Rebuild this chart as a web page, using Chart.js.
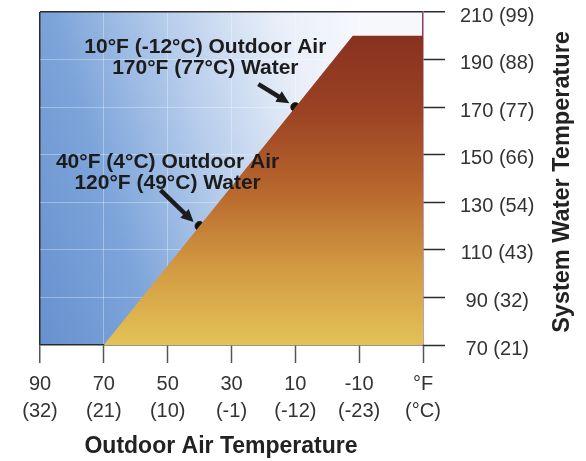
<!DOCTYPE html>
<html>
<head>
<meta charset="utf-8">
<script src="https://cdn.jsdelivr.net/npm/chart.js@4.4.1/dist/chart.umd.min.js"></script>
<style>
  html, body { margin: 0; padding: 0; background: #fff; }
  #wrap { width: 586px; height: 461px; }
</style>
</head>
<body>
<div id="wrap"><canvas id="chart" width="586" height="461"></canvas></div>
<script>
// reset curve: outdoor air (F) -> system water (F)
const curveAir = [70, 40, 10, -8, -30];
const curveWater = [70, 120, 170, 200, 200];

// the two marked design points
const markAir = [40, 10];
const markWater = [120, 170];
const markText = [
   ["40\u00B0F (4\u00B0C) Outdoor Air", "120\u00B0F (49\u00B0C) Water"],
   ["10\u00B0F (-12\u00B0C) Outdoor Air", "170\u00B0F (77\u00B0C) Water"],
];

// tick labels
const xTickF = [90, 70, 50, 30, 10, -10, -30];
const xTickC = ["(32)", "(21)", "(10)", "(-1)", "(-12)", "(-23)", "(\u00B0C)"];
const yTickF = [70, 90, 110, 130, 150, 170, 190, 210];
const yTickC = ["(21)", "(32)", "(43)", "(54)", "(66)", "(77)", "(88)", "(99)"];

const xTitle = "Outdoor Air Temperature";
const yTitle = "System Water Temperature";

const FONT = "'Liberation Sans', Arial, Helvetica, sans-serif";
const DARK = "#2b2b2b";

function blueBackground(ctx, area) {
   // mostly left-to-right, tilted a little toward the top
   const g = ctx.createLinearGradient(area.left, area.bottom, area.right, area.bottom - 120);
   g.addColorStop(0, "#6791cf");
   g.addColorStop(0.28, "#7ea5da");
   g.addColorStop(0.55, "#b8ceec");
   g.addColorStop(0.8, "#e8eef8");
   g.addColorStop(1, "#f6f8fc");
   return g;
}

function brownFill(context) {
   const chart = context.chart;
   const area = chart.chartArea;
   if (!area) return "#b5692e";
   const y = chart.scales.y;
   const g = chart.ctx.createLinearGradient(0, y.getPixelForValue(200), 0, area.bottom);
   g.addColorStop(0, "#88311f");
   g.addColorStop(0.25, "#9c4324");
   g.addColorStop(0.5, "#b8672d");
   g.addColorStop(0.75, "#d29a42");
   g.addColorStop(1, "#e3c257");
   return g;
}

const plotBg = {
   id: "plotBg",
   beforeDraw(chart) {
      const { ctx, chartArea } = chart;
      ctx.save();
      ctx.fillStyle = blueBackground(ctx, chartArea);
      ctx.fillRect(chartArea.left, chartArea.top, chartArea.right - chartArea.left, chartArea.bottom - chartArea.top);
      ctx.restore();
   },
};

function arrow(ctx, x1, y1, x2, y2) {
   const ang = Math.atan2(y2 - y1, x2 - x1);
   const head = 14;
   ctx.beginPath();
   ctx.moveTo(x1, y1);
   ctx.lineTo(x2 - Math.cos(ang) * head * 0.7, y2 - Math.sin(ang) * head * 0.7);
   ctx.stroke();
   ctx.beginPath();
   ctx.moveTo(x2, y2);
   ctx.lineTo(x2 - head * Math.cos(ang - 0.45), y2 - head * Math.sin(ang - 0.45));
   ctx.lineTo(x2 - head * Math.cos(ang + 0.45), y2 - head * Math.sin(ang + 0.45));
   ctx.closePath();
   ctx.fill();
}

const notes = {
   id: "notes",
   afterDraw(chart) {
      const { ctx } = chart;
      const xs = chart.scales.x;
      const ys = chart.scales.y;
      ctx.save();
      ctx.fillStyle = "#1c1c1c";
      ctx.strokeStyle = "#1c1c1c";
      ctx.lineWidth = 4.5;
      ctx.font = "bold 21px " + FONT;
      ctx.textAlign = "center";
      ctx.textBaseline = "middle";
      // label offsets from the point they describe
      const off = [
         { tx: -32, ty: -64, ax: -39, ay: -36 },
         { tx: -90, ty: -60, ax: -37, ay: -23 },
      ];
      markAir.forEach((a, i) => {
         const px = xs.getPixelForValue(a);
         const py = ys.getPixelForValue(markWater[i]);
         const o = off[i];
         ctx.fillText(markText[i][0], px + o.tx, py + o.ty);
         ctx.fillText(markText[i][1], px + o.tx, py + o.ty + 21);
         arrow(ctx, px + o.ax, py + o.ay, px - 6, py - 4);
      });

      // axis titles
      ctx.fillStyle = "#222";
      ctx.font = "bold 23px " + FONT;
      ctx.fillText(xTitle, 221, 447);
      ctx.font = "bold 23.5px " + FONT;
      ctx.translate(563, 182);
      ctx.rotate(-Math.PI / 2);
      ctx.fillText(yTitle, 0, 0);
      ctx.restore();
   },
};

new Chart(document.getElementById("chart"), {
   type: "line",
   data: {
      datasets: [
         {
            data: curveAir.map((a, i) => ({ x: a, y: curveWater[i] })),
            fill: "start",
            backgroundColor: brownFill,
            borderWidth: 0,
            pointRadius: 0,
            tension: 0,
         },
         {
            data: markAir.map((a, i) => ({ x: a, y: markWater[i] })),
            showLine: false,
            pointRadius: 4.5,
            pointBackgroundColor: "#111",
            pointBorderColor: "#111",
         },
      ],
   },
   options: {
      responsive: false,
      animation: false,
      layout: { padding: { left: 40, top: 12, right: 0, bottom: 0 } },
      plugins: { legend: { display: false }, tooltip: { enabled: false } },
      scales: {
         x: {
            type: "linear",
            reverse: true,
            min: -30,
            max: 90,
            afterBuildTicks: (s) => { s.ticks = xTickF.map((v) => ({ value: v })); },
            afterFit: (s) => { s.height = 116; },
            grid: {
               color: (c) => (c.tick && c.tick.value === 90 ? DARK : "rgba(255,255,255,0.32)"),
               lineWidth: (c) => (c.tick && c.tick.value === 90 ? 1.5 : 1),
               tickColor: "#555",
               tickLength: 18,
               tickWidth: 1.5,
            },
            border: { color: DARK, width: 1.5 },
            ticks: {
               padding: 8,
               maxRotation: 0,
               autoSkip: false,
               color: "#333",
               font: { family: FONT, size: 20, lineHeight: 1.35 },
               callback: (v) => {
                  const i = xTickF.indexOf(v);
                  return [v === -30 ? "\u00B0F" : String(v), xTickC[i]];
               },
            },
         },
         y: {
            position: "right",
            min: 70,
            max: 210,
            afterBuildTicks: (s) => { s.ticks = yTickF.map((v) => ({ value: v })); },
            afterFit: (s) => {
               s.width = 163;
               s.paddingTop = 0;
               s.paddingBottom = 0;
            },
            grid: {
               color: (c) => (c.tick && c.tick.value === 210 ? DARK : "rgba(255,255,255,0.32)"),
               lineWidth: (c) => (c.tick && c.tick.value === 210 ? 1.5 : 1),
               tickColor: DARK,
               tickLength: 22,
               tickWidth: 1.5,
            },
            border: { color: "#8a3a6a", width: 1.5 },
            ticks: {
               padding: 15,
               labelOffset: 4,
               crossAlign: "center",
               color: "#333",
               font: { family: FONT, size: 20 },
               callback: (v) => v + " " + yTickC[yTickF.indexOf(v)],
            },
         },
      },
   },
   plugins: [plotBg, notes],
});
</script>
</body>
</html>
